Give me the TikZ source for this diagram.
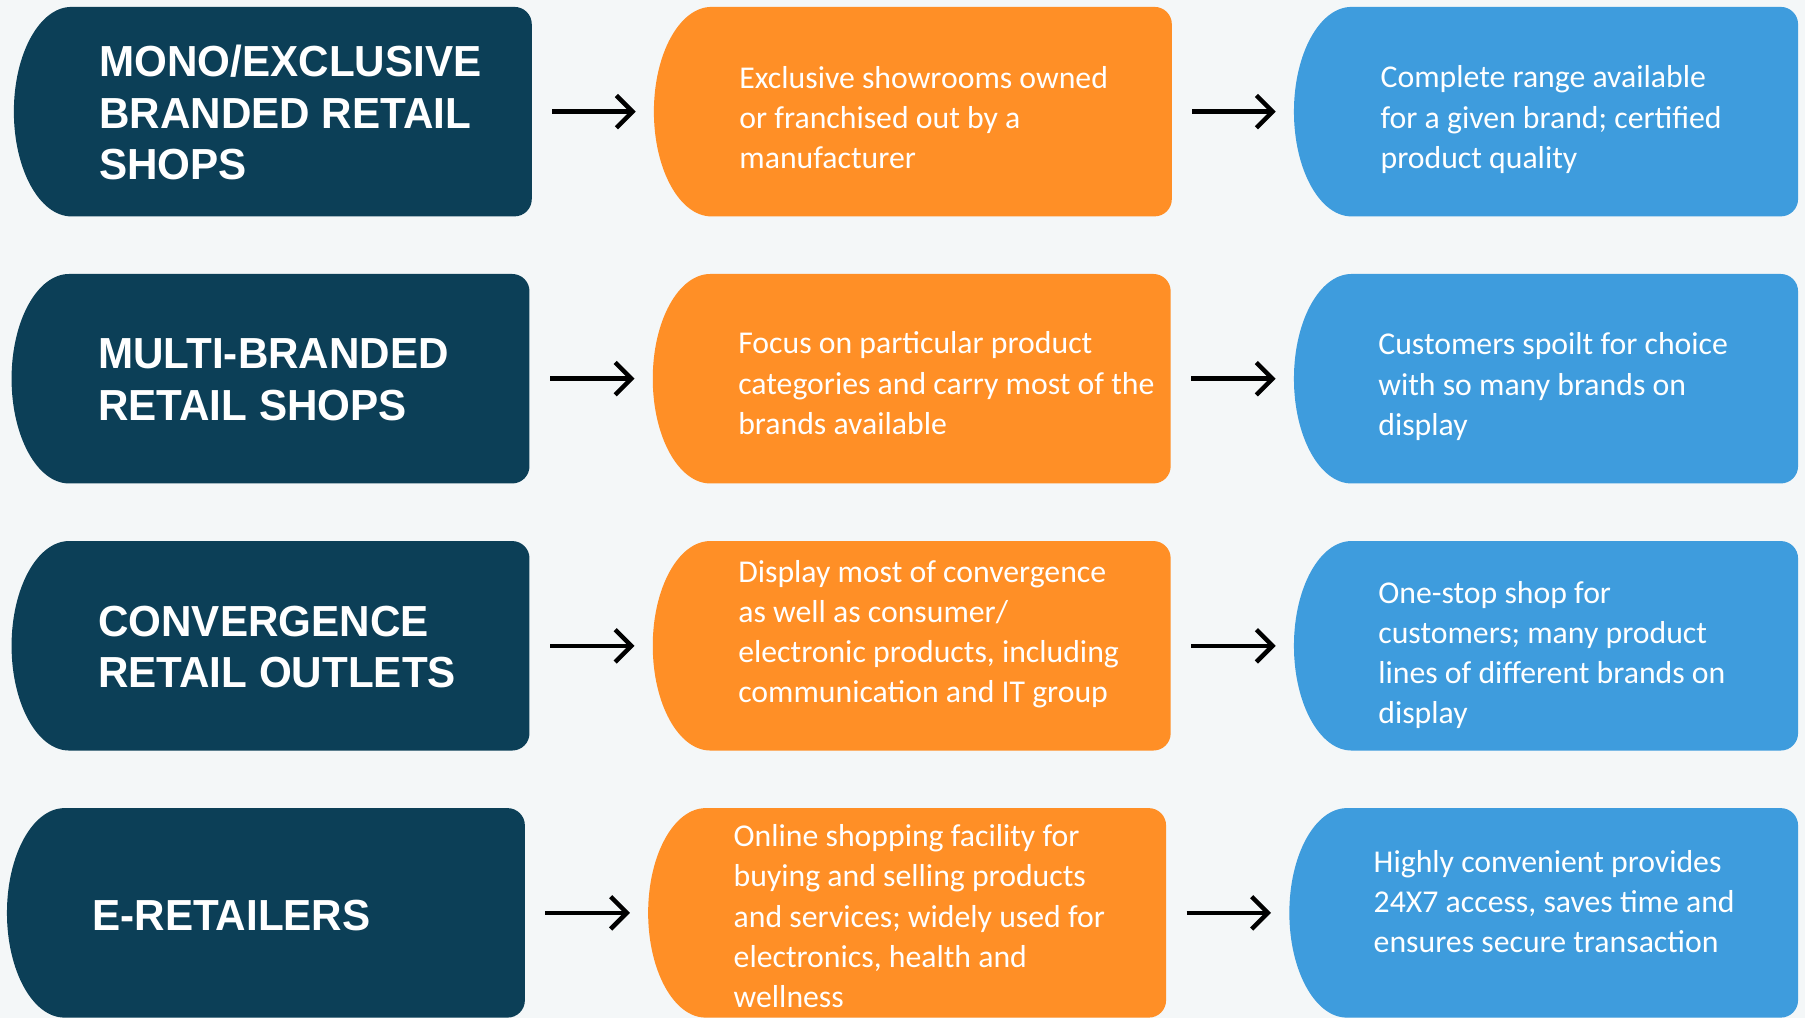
\documentclass[tikz,border=0pt]{standalone}
\usepackage{fontspec}
\setmainfont{Carlito}
\newfontfamily\headfont{Liberation Sans}[FakeStretch=0.97]
\usepackage{tikz}
\usetikzlibrary{arrows.meta}
\usepackage{xcolor}
\definecolor{rtnavy}{RGB}{12,63,87}
\definecolor{rtorange}{RGB}{255,143,38}
\definecolor{rtblue}{RGB}{62,156,221}
\definecolor{rtpaper}{RGB}{244,247,248}
\tikzstyle{arrow} = [line width=2.2pt,-{Straight Barb[length=8pt,width=16pt,line width=2.2pt]},color=black,shorten <=0.35cm,shorten >=0.31cm]
\tikzstyle{head} = [anchor=west, inner sep=0pt, align=left, text=white, font=\headfont\bfseries\fontsize{21.5}{25.5}\selectfont]
\tikzstyle{note} = [anchor=west, inner sep=0pt, align=left, text=white, font=\fontsize{15.7}{19.9}\selectfont]
\tikzset{
  tab/.style={minimum width=9cm, minimum height=3.64cm, inner sep=0pt, path picture={
    \fill[#1] ([xshift=1cm]path picture bounding box.north west)
      arc[start angle=90, end angle=270, x radius=1cm, y radius=1.82cm]
      -- ([xshift=-0.3cm]path picture bounding box.south east)
      arc[start angle=-90, end angle=0, radius=0.3cm]
      -- ([yshift=-0.3cm]path picture bounding box.north east)
      arc[start angle=0, end angle=90, radius=0.3cm] -- cycle;
  }}
}

\begin{document}
\begin{tikzpicture}[x=0.02cm, y=0.02cm]
\useasboundingbox (0,0) rectangle (1568,-884);
\fill[rtpaper] (0,0) rectangle (1568,-884);

% Mono / exclusive row
\node[tab=rtnavy] (shop1) at (237,-97) {};
\node[tab=rtorange] (form1) at (793,-97) {};
\node[tab=rtblue, minimum width=8.76cm] (gain1) at (1343,-97) {};
\node[head] at (86,-98) {MONO/EXCLUSIVE\\BRANDED RETAIL\\SHOPS};
\node[note] at (642,-102) {Exclusive showrooms owned\\or franchised out by a\\manufacturer};
\node[note] at (1199,-104) {Complete range available\\for a given brand; certified\\product quality};

% Multi-branded row
\node[tab=rtnavy] (shop2) at (235,-329) {};
\node[tab=rtorange] (form2) at (792,-329) {};
\node[tab=rtblue, minimum width=8.76cm] (gain2) at (1343,-329) {};
\node[head] at (85,-330) {MULTI-BRANDED\\RETAIL SHOPS};
\node[note] at (641,-333) {Focus on particular product\\categories and carry most of the\\brands available};
\node[note] at (1197,-336) {Customers spoilt for choice\\with so many brands on\\display};

% Convergence row
\node[tab=rtnavy] (shop3) at (235,-561) {};
\node[tab=rtorange] (form3) at (792,-561) {};
\node[tab=rtblue, minimum width=8.76cm] (gain3) at (1343,-561) {};
\node[head] at (85,-562) {CONVERGENCE\\RETAIL OUTLETS};
\node[note] at (641,-551) {Display most of convergence\\as well as consumer/\\electronic products, including\\communication and IT group};
\node[note] at (1197,-569) {One-stop shop for\\customers; many product\\lines of different brands on\\display};

% E-retailers row
\node[tab=rtnavy] (shop4) at (231,-793) {};
\node[tab=rtorange] (form4) at (788,-793) {};
\node[tab=rtblue, minimum width=8.84cm] (gain4) at (1341,-793) {};
\node[head] at (80,-795) {E-RETAILERS};
\node[note] at (637,-796) {Online shopping facility for\\buying and selling products\\and services; widely used for\\electronics, health and\\wellness};
\node[note] at (1193,-783) {Highly convenient provides\\24X7 access, saves time and\\ensures secure transaction};

% arrows
\draw[arrow] (shop1) -- (form1);
\draw[arrow] (form1) -- (gain1);
\draw[arrow] (shop2) -- (form2);
\draw[arrow] (form2) -- (gain2);
\draw[arrow] (shop3) -- (form3);
\draw[arrow] (form3) -- (gain3);
\draw[arrow] (shop4) -- (form4);
\draw[arrow] (form4) -- (gain4);
\end{tikzpicture}
\end{document}
